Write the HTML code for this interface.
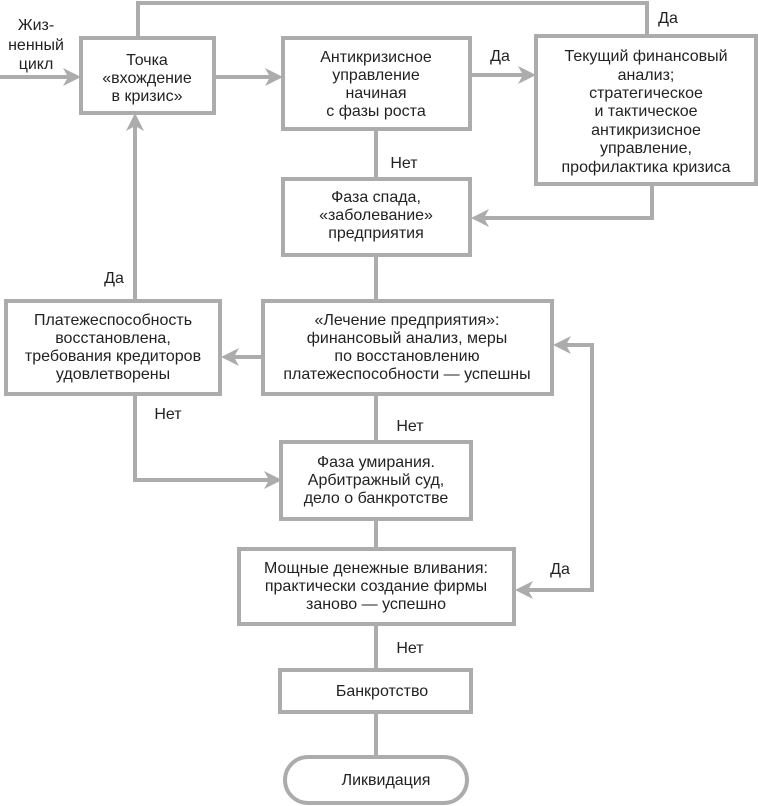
<!DOCTYPE html>
<html><head><meta charset="utf-8"><style>
html,body{margin:0;padding:0;background:#fff;}
svg{display:block;}
text{font-family:"Liberation Sans","DejaVu Sans",sans-serif;font-size:16px;fill:#222;text-anchor:middle;}
.b{fill:#fff;stroke:#acacac;stroke-width:4;}
.l{fill:none;stroke:#acacac;stroke-width:4;}
.a{fill:#acacac;stroke:none;}
</style></head><body>
<svg width="758" height="806" viewBox="0 0 758 806" xmlns="http://www.w3.org/2000/svg">
<!-- connectors -->
<polyline class="l" points="138,38 138,3 647,3 647,36"/>
<line class="l" x1="0" y1="77" x2="70" y2="77"/>
<polygon class="a" points="81,77 63,68 68,77 63,86"/>
<line class="l" x1="214" y1="77" x2="272" y2="77"/>
<polygon class="a" points="283,77 265,68 270,77 265,86"/>
<line class="l" x1="470" y1="75" x2="525" y2="75"/>
<polygon class="a" points="536,75 518,66 523,75 518,84"/>
<line class="l" x1="376" y1="129" x2="376" y2="179"/>
<polyline class="l" points="652,184 652,218 482,218"/>
<polygon class="a" points="471,218 489,209 484,218 489,227"/>
<line class="l" x1="376" y1="255" x2="376" y2="301"/>
<line class="l" x1="262" y1="357" x2="232" y2="357"/>
<polygon class="a" points="221,357 239,348 234,357 239,366"/>
<polyline class="l" points="135,301 135,124"/>
<polygon class="a" points="135,113 126,131 135,126 144,131"/>
<polyline class="l" points="135,394 135,480 271,480"/>
<polygon class="a" points="282,480 264,471 269,480 264,489"/>
<line class="l" x1="376" y1="394" x2="376" y2="442"/>
<line class="l" x1="376" y1="519" x2="376" y2="549"/>
<polyline class="l" points="526,590 592,590 592,345 564,345"/>
<polygon class="a" points="553,345 571,336 566,345 571,354"/>
<polygon class="a" points="515,590 533,581 528,590 533,599"/>
<line class="l" x1="376" y1="624" x2="376" y2="670"/>
<line class="l" x1="376" y1="712" x2="376" y2="757"/>

<!-- boxes -->
<rect class="b" x="81" y="38" width="133" height="75"/>
<rect class="b" x="283" y="38" width="187" height="91"/>
<rect class="b" x="536" y="36" width="220" height="148"/>
<rect class="b" x="283" y="179" width="187" height="76"/>
<rect class="b" x="6" y="301" width="214" height="93"/>
<rect class="b" x="263" y="301" width="289" height="93"/>
<rect class="b" x="281" y="442" width="190" height="77"/>
<rect class="b" x="239" y="549" width="275" height="75"/>
<rect class="b" x="280" y="670" width="191" height="42"/>
<rect class="b" x="285" y="757" width="182" height="46" rx="23" ry="23"/>

<!-- labels -->
<text x="36" y="30">Жиз-</text>
<text x="36" y="50">ненный</text>
<text x="36" y="69">цикл</text>

<text x="147" y="65">Точка</text>
<text x="147" y="83">«вхождение</text>
<text x="147" y="101">в кризис»</text>

<text x="376" y="62">Антикризисное</text>
<text x="376" y="80">управление</text>
<text x="376" y="98">начиная</text>
<text x="376" y="116">с фазы роста</text>

<text x="646" y="61">Текущий финансовый</text>
<text x="646" y="80">анализ;</text>
<text x="646" y="98">стратегическое</text>
<text x="646" y="116">и тактическое</text>
<text x="646" y="135">антикризисное</text>
<text x="646" y="153">управление,</text>
<text x="646" y="172">профилактика кризиса</text>

<text x="376" y="202">Фаза спада,</text>
<text x="376" y="220">«заболевание»</text>
<text x="376" y="238">предприятия</text>

<text x="113" y="325">Платежеспособность</text>
<text x="113" y="343">восстановлена,</text>
<text x="113" y="361">требования кредиторов</text>
<text x="113" y="379">удовлетворены</text>

<text x="407" y="325">«Лечение предприятия»:</text>
<text x="407" y="343">финансовый анализ, меры</text>
<text x="407" y="361">по восстановлению</text>
<text x="407" y="379">платежеспособности — успешны</text>

<text x="376" y="467">Фаза умирания.</text>
<text x="376" y="485">Арбитражный суд,</text>
<text x="376" y="503">дело о банкротстве</text>

<text x="376" y="573">Мощные денежные вливания:</text>
<text x="376" y="591">практически создание фирмы</text>
<text x="376" y="609">заново — успешно</text>

<text x="382" y="696">Банкротство</text>
<text x="386" y="785">Ликвидация</text>

<text x="668" y="23">Да</text>
<text x="500" y="61">Да</text>
<text x="404" y="168">Нет</text>
<text x="114" y="283">Да</text>
<text x="168" y="419">Нет</text>
<text x="410" y="431">Нет</text>
<text x="560" y="574">Да</text>
<text x="410" y="653">Нет</text>
</svg>
</body></html>
